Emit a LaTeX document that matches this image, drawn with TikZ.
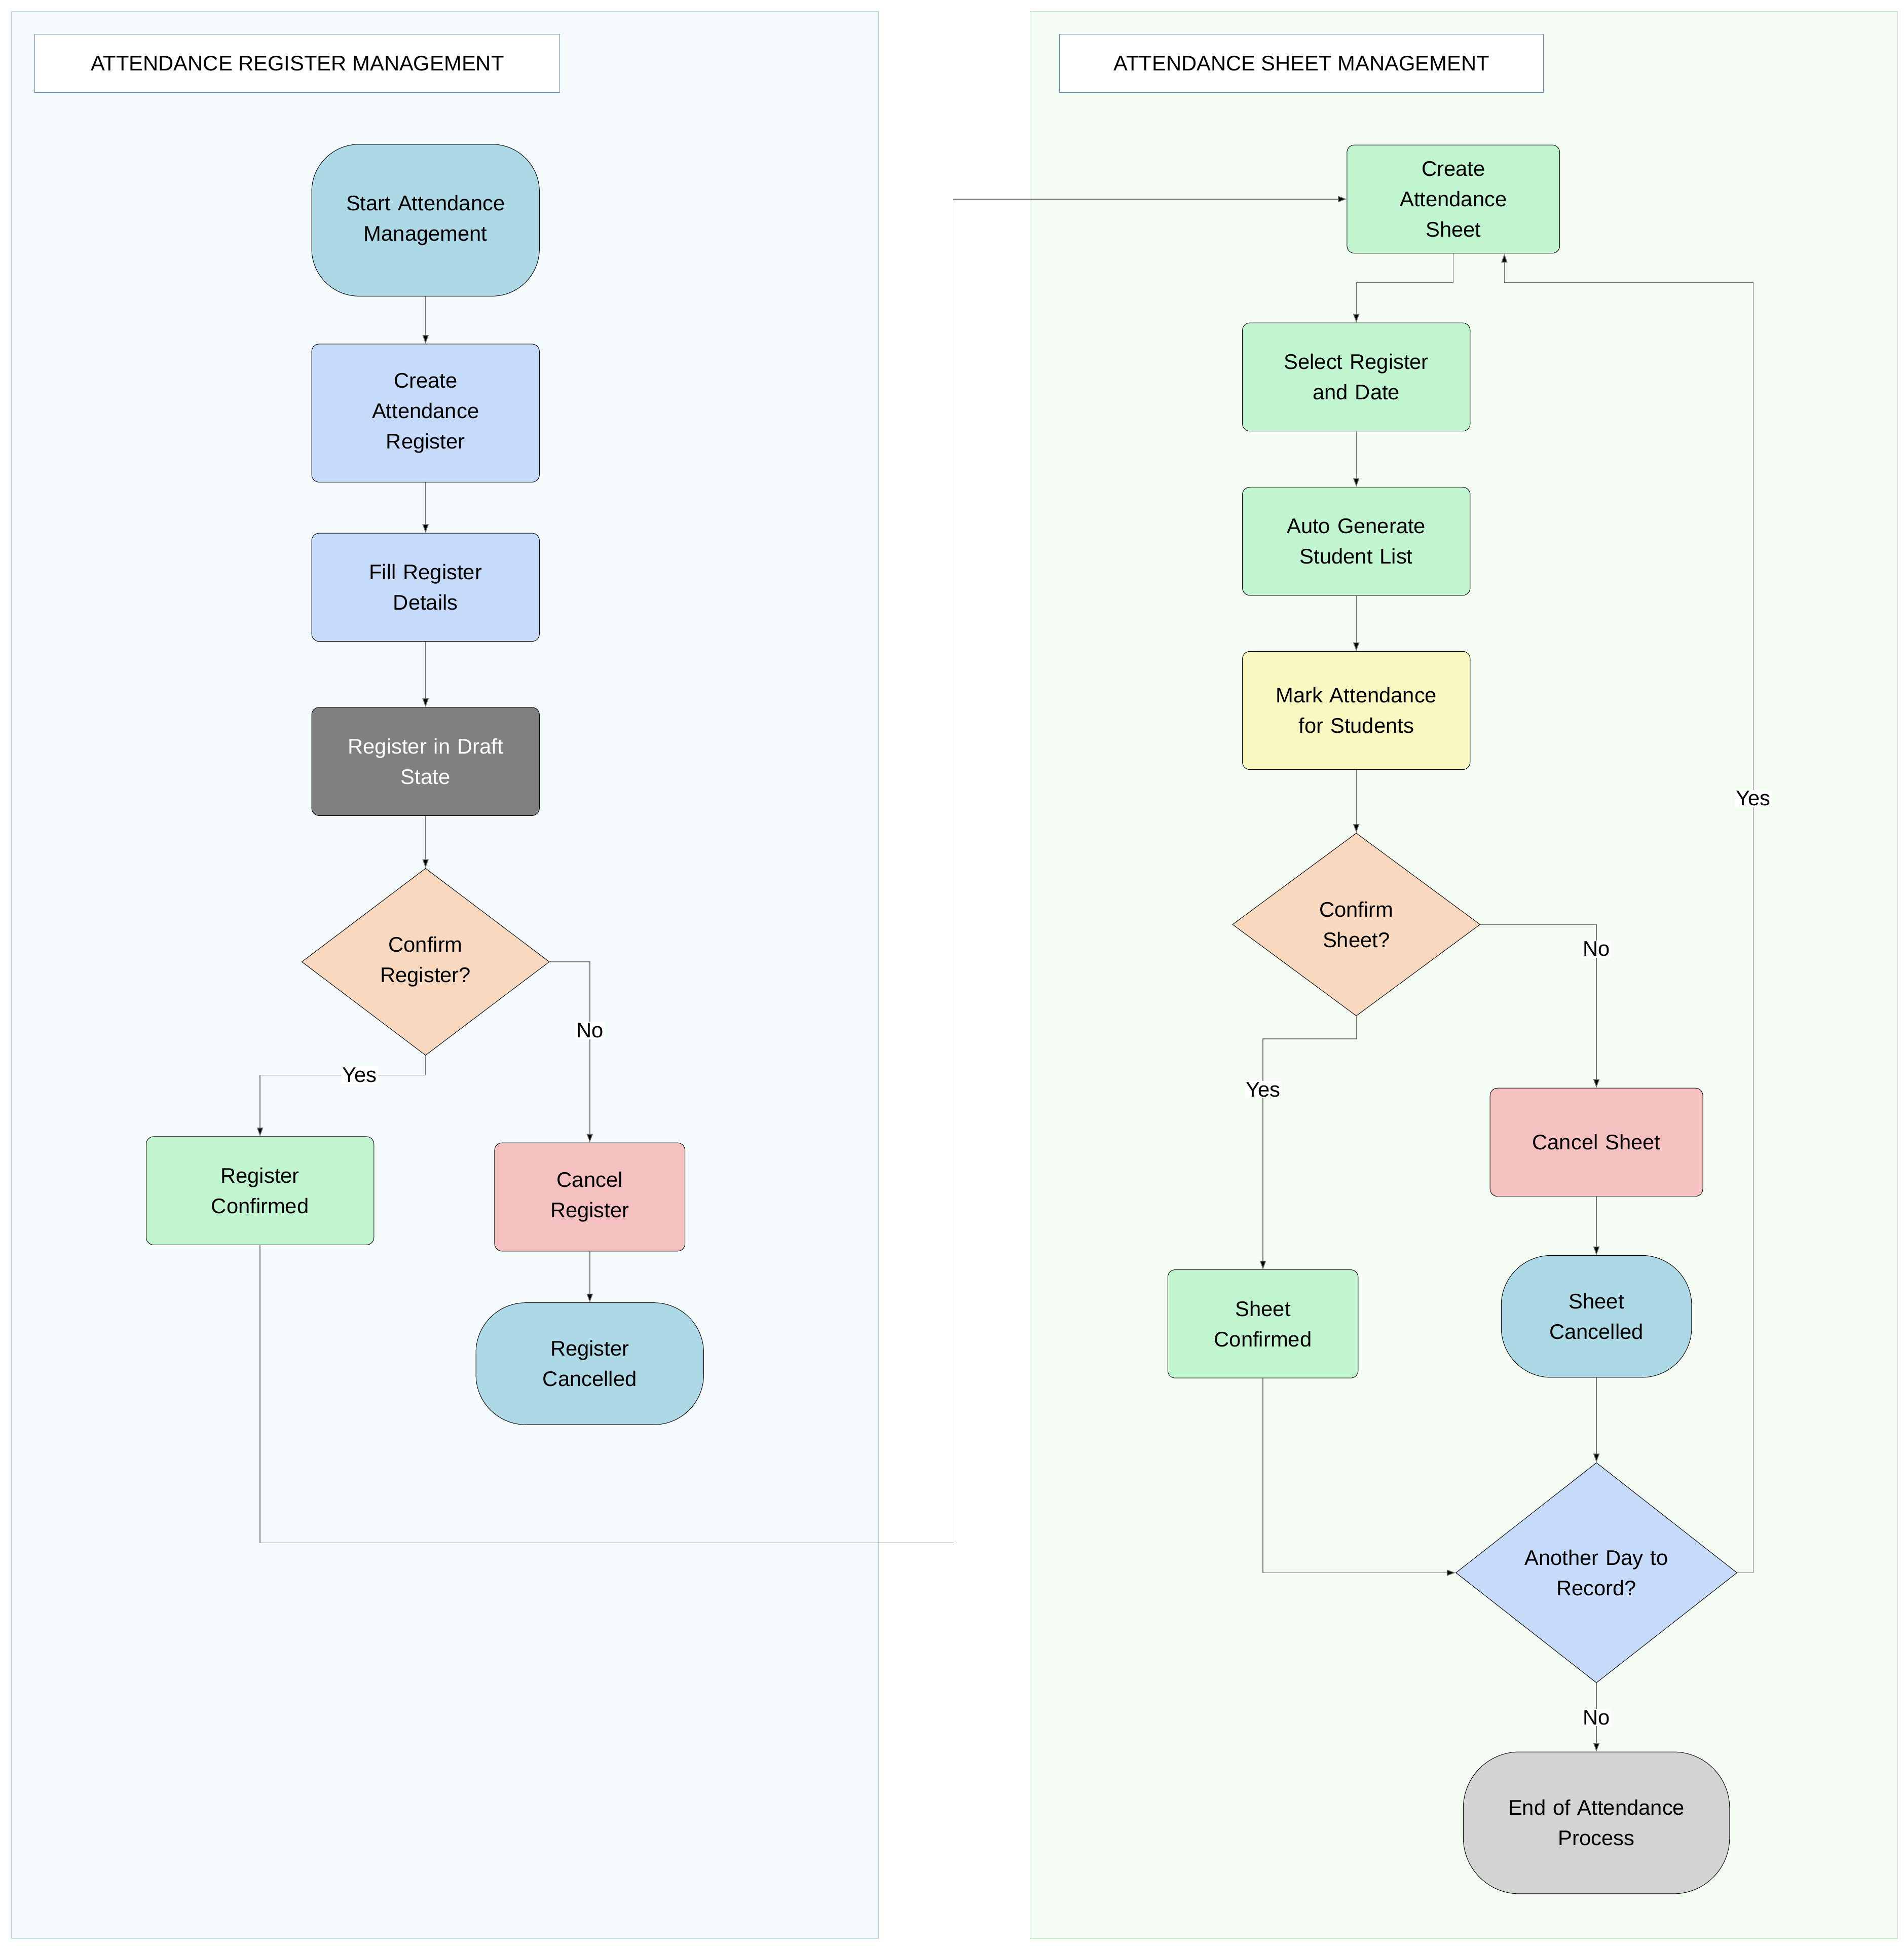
\documentclass[tikz,border=0pt]{standalone}
\usepackage{fontspec}
\setmainfont{Liberation Sans}
\usetikzlibrary{shapes.geometric,arrows.meta}
\definecolor{lanebA}{HTML}{F5FAFD}\definecolor{lanebB}{HTML}{ADD8E6}
\definecolor{lanegA}{HTML}{F5FCF3}\definecolor{lanegB}{HTML}{B8E8B8}
\definecolor{cblue}{HTML}{ADD8E6}\definecolor{cpb}{HTML}{C6DBFA}
\definecolor{cgreen}{HTML}{C0F5D0}\definecolor{cpink}{HTML}{F5C0C0}
\definecolor{cyel}{HTML}{F8F8C0}\definecolor{corange}{HTML}{F8D9C0}
\definecolor{cgrey}{HTML}{D3D3D3}\definecolor{titleb}{HTML}{5B8DD6}
\begin{document}
\begin{tikzpicture}[x=1pt,y=-1pt,
 every node/.style={font=\fontsize{17}{24.5}\selectfont},
 box/.style={draw=black,rounded corners=6pt,align=center,inner sep=2pt,text width=#1},
 box/.default=165pt,
 pill/.style={draw=black,rounded corners=38pt,align=center,text width=165pt},
 dia/.style={draw=black,diamond,align=center,inner sep=0pt,text width=110pt},
 e/.style={draw=black!55,line width=0.6pt,-{Triangle[length=7pt,width=5pt,fill=black]}},
 lbl/.style={fill=white,inner sep=1pt}]
\useasboundingbox (0,0) rectangle (1530,1564);
\draw[lanebB,fill=lanebA] (9,9) rectangle (706,1558);
\draw[lanegB,fill=lanegA] (828,9) rectangle (1525,1558);
\node[draw=titleb,fill=white,minimum width=422pt,minimum height=47pt] (t1) at (239,51) {ATTENDANCE REGISTER MANAGEMENT};
\node[draw=titleb,fill=white,minimum width=389pt,minimum height=47pt] (t2) at (1046,51) {ATTENDANCE SHEET MANAGEMENT};
% left
\node[pill,fill=cblue,minimum width=183pt,minimum height=122pt] (start) at (342,177) {Start Attendance\\Management};
\node[box,fill=cpb,minimum width=183pt,minimum height=111pt] (creg) at (342,332) {Create\\Attendance\\Register};
\node[box,fill=cpb,minimum width=183pt,minimum height=87pt] (fill) at (342,472) {Fill Register\\Details};
\node[box,fill=black!50,text=white,minimum width=183pt,minimum height=87pt] (draft) at (342,612) {Register in Draft\\State};
\node[dia,fill=corange,minimum width=199pt,minimum height=136pt] (creq) at (342,773) {Confirm\\Register?};
\node[box,fill=cgreen,minimum width=183pt,minimum height=87pt] (rconf) at (209,957) {Register\\Confirmed};
\node[box=140pt,fill=cpink,minimum width=153pt,minimum height=87pt] (creg2) at (474,962) {Cancel\\Register};
\node[pill,fill=cblue,minimum width=183pt,minimum height=98pt,rounded corners=40pt] (rcan) at (474,1096) {Register\\Cancelled};
% right
\node[box=160pt,fill=cgreen,minimum width=171pt,minimum height=87pt] (cs) at (1168,160) {Create\\Attendance\\Sheet};
\node[box,fill=cgreen,minimum width=183pt,minimum height=87pt] (sel) at (1090,303) {Select Register\\and Date};
\node[box,fill=cgreen,minimum width=183pt,minimum height=87pt] (auto) at (1090,435) {Auto Generate\\Student List};
\node[box,fill=cyel,minimum width=183pt,minimum height=95pt] (mark) at (1090,571) {Mark Attendance\\for Students};
\node[dia,fill=corange,minimum width=199pt,minimum height=136pt] (csq) at (1090,743) {Confirm\\Sheet?};
\node[box=160pt,fill=cpink,minimum width=171pt,minimum height=87pt] (cans) at (1283,918) {Cancel Sheet};
\node[box=140pt,fill=cgreen,minimum width=153pt,minimum height=87pt] (sconf) at (1015,1064) {Sheet\\Confirmed};
\node[pill,text width=140pt,fill=cblue,minimum width=153pt,minimum height=98pt,rounded corners=40pt] (scan) at (1283,1058) {Sheet\\Cancelled};
\node[dia,fill=cpb,minimum width=226pt,minimum height=155pt,text width=140pt] (ano) at (1283,1264) {Another Day to\\Record?};
\node[pill,text width=200pt,fill=cgrey,minimum width=214pt,minimum height=114pt,rounded corners=45pt] (end) at (1283,1465) {End of Attendance\\Process};
\coordinate (a1) at (766,1240); \coordinate (a2) at (766,160);
% edges
\draw[e] (start) -- (creg);
\draw[e] (creg) -- (fill);
\draw[e] (fill) -- (draft);
\draw[e] (draft) -- (creq);
\draw[e] (creq.east) -- (474,773) -- node[lbl,pos=0.38]{No} (creg2.north);
\draw[e] (creq.south) -- (342,864) -- node[lbl,pos=0.4]{Yes} (209,864) -- (rconf.north);
\draw[e] (creg2) -- (rcan);
\draw[e] (rconf.south) -- (209,1240) -- (a1) -- (a2) -- (cs.west);
\draw[e] (cs.south) -- (1168,227) -- (1090,227) -- (sel.north);
\draw[e] (sel) -- (auto);
\draw[e] (auto) -- (mark);
\draw[e] (mark) -- (csq);
\draw[e] (csq.east) -- (1283,743) -- node[lbl,pos=0.15]{No} (cans.north);
\draw[e] (csq.south) -- (1090,835) -- (1015,835) -- node[lbl,pos=0.22]{Yes} (sconf.north);
\draw[e] (cans) -- (scan);
\draw[e] (scan) -- (ano);
\draw[e] (sconf.south) -- (1015,1264) -- (ano.west);
\draw[e] (ano.east) -- (1409,1264) -- node[lbl,pos=0.6]{Yes} (1409,227) -- (1209,227) -- (1209,204);
\draw[e] (ano.south) -- node[lbl]{No} (end.north);
\end{tikzpicture}
\end{document}
